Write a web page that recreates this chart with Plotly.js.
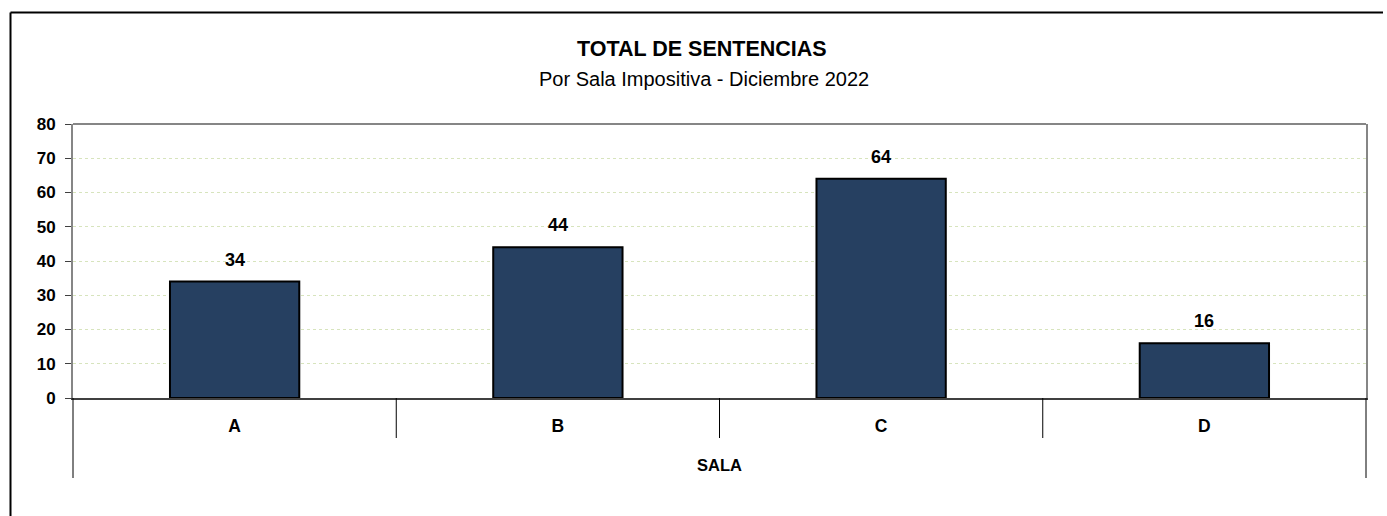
<!DOCTYPE html>
<html>
<head>
<meta charset="utf-8">
<script src="https://cdn.plot.ly/plotly-3.0.1.min.js"></script>
<style>html,body{margin:0;padding:0;background:#fff;}#chart{width:1387px;height:516px;}</style>
</head>
<body>
<div id="chart"></div>
<script>
// ---- data ----
const categories = ['A', 'B', 'C', 'D'];
const sentencias = [34, 44, 64, 16];
const yTicks = [0, 10, 20, 30, 40, 50, 60, 70, 80];
const titleText = 'TOTAL DE SENTENCIAS';
const subtitleText = 'Por Sala Impositiva - Diciembre 2022';
const xTitle = 'SALA';

// ---- layout geometry (pixels) ----
const W = 1387, H = 516;
const L = 73, R = 1366, T = 124, B = 398;
const px = x => (x - L) / (R - L);
const py = y => (B - y) / (B - T);
const FONT = 'Liberation Sans, Arial, sans-serif';

const shapes = [];
// plot top border
shapes.push({type:'line', xref:'paper', yref:'paper', x0:0, x1:1, y0:1, y1:1, line:{color:'#868686', width:2}});
// category dividers below axis
for (let k = 1; k < categories.length; k++) {
  shapes.push({type:'line', xref:'paper', yref:'paper', x0:k/categories.length, x1:k/categories.length, y0:0, y1:py(438), line:{color:'#000', width:1}});
}
// outer extensions
shapes.push({type:'line', xref:'paper', yref:'paper', x0:0, x1:0, y0:0, y1:py(478), line:{color:'#000', width:1}});
shapes.push({type:'line', xref:'paper', yref:'paper', x0:1, x1:1, y0:0, y1:py(478), line:{color:'#000', width:1}});
// outer chart border (top and left)
shapes.push({type:'line', xref:'paper', yref:'paper', x0:px(10.5), x1:px(1383), y0:py(12.5), y1:py(12.5), line:{color:'#000', width:2}});
shapes.push({type:'line', xref:'paper', yref:'paper', x0:px(10.5), x1:px(10.5), y0:py(12.5), y1:py(530), line:{color:'#000', width:2}});

const annotations = [
  {text:'<b>'+titleText+'</b>', xref:'paper', yref:'paper', x:px(702), y:py(49), xanchor:'center', yanchor:'middle', showarrow:false, font:{family:FONT, size:21.5, color:'#000'}},
  {text:subtitleText, xref:'paper', yref:'paper', x:px(704), y:py(79), xanchor:'center', yanchor:'middle', showarrow:false, font:{family:FONT, size:20, color:'#000'}},
  {text:'<b>'+xTitle+'</b>', xref:'paper', yref:'paper', x:0.5, y:py(465), xanchor:'center', yanchor:'middle', showarrow:false, font:{family:FONT, size:16.5, color:'#000'}}
];
categories.forEach((c, i) => {
  annotations.push({text:'<b>'+sentencias[i]+'</b>', x:c, y:sentencias[i], xref:'x', yref:'y', xanchor:'center', yanchor:'bottom', yshift:10, showarrow:false, font:{family:FONT, size:18, color:'#000'}});
});

const trace = {
  type:'bar', x:categories, y:sentencias,
  marker:{color:'#264061', line:{color:'#000', width:2}},
  hoverinfo:'none'
};

const layout = {
  width:W, height:H,
  margin:{l:L, r:W-R, t:T, b:H-B, pad:0},
  paper_bgcolor:'#fff', plot_bgcolor:'#fff',
  bargap:0.6,
  showlegend:false,
  font:{family:FONT, color:'#000'},
  xaxis:{
    type:'category', range:[-0.5, categories.length-0.5],
    showline:true, linecolor:'#404040', linewidth:1.5,
    showgrid:false, zeroline:false, ticks:'',
    tickfont:{family:FONT, size:17.5, color:'#000'},
    ticklabelstandoff:11,
    tickprefix:'<b>', ticksuffix:'</b>'
  },
  yaxis:{
    range:[0, 80], tickvals:yTicks, ticktext:yTicks.map(v => '<b>'+v+'</b>'),
    showline:true, mirror:true, linecolor:'#868686', linewidth:2,
    ticks:'outside', ticklen:6, tickcolor:'#404040', tickwidth:1,
    showgrid:true, gridcolor:'#D7E4BD', griddash:'dot', gridwidth:1,
    zeroline:false,
    tickfont:{family:FONT, size:17, color:'#000'},
    ticklabelstandoff:6
  },
  shapes:shapes,
  annotations:annotations
};

Plotly.newPlot('chart', [trace], layout, {staticPlot:true, displayModeBar:false});
</script>
</body>
</html>
